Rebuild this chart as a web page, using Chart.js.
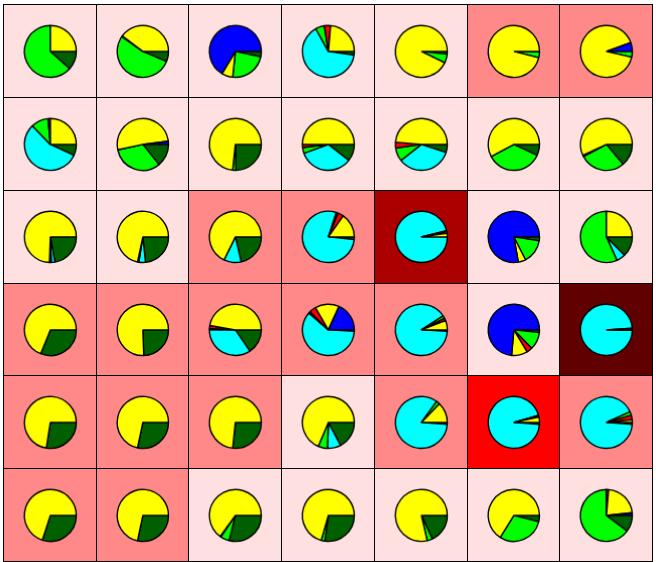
<!DOCTYPE html>
<html>
<head>
<meta charset="utf-8">
<script src="https://cdn.jsdelivr.net/npm/chart.js@4"></script>
<style>
  html, body { margin: 0; padding: 0; background: #fff; }
  #grid {
    position: absolute; left: 3px; top: 4px; width: 650px; height: 558px;
    box-sizing: border-box; padding: 1px; background: #000;
    display: grid; gap: 1px;
    grid-template-columns: repeat(7, 1fr);
    grid-template-rows: repeat(6, 1fr);
  }
  .cell { position: relative; min-width: 0; min-height: 0; }
</style>
</head>
<body>
<div id="grid"></div>
<script>
// 6 rows x 7 columns, row-major. Shares (degrees of the circle)
const categories = ["blue", "yellow", "red", "green", "cyan", "darkgreen"];

const blue = [
  0, 0, 239, 0, 0, 0, 20,
  0, 7, 0, 0, 0, 0, 0,
  0, 0, 0, 0, 0, 280, 0,
  0, 0, 0, 66, 0, 265, 0,
  0, 0, 0, 0, 0, 0, 0,
  0, 0, 0, 0, 0, 0, 6
];
const yellow = [
  90, 143, 25, 85, 334, 346, 327,
  90, 185, 264, 180, 175, 208, 205,
  268, 258, 244, 55, 8, 17, 90,
  248, 272, 170, 54, 21, 36, 1,
  261, 258, 264, 247, 46, 12, 6,
  252, 258, 234, 254, 283, 238, 79
];
const red = [
  0, 2, 0, 14, 0, 0, 0,
  5, 0, 0, 7, 13, 0, 3,
  4, 0, 0, 13, 4, 0, 0,
  0, 0, 7, 15, 6, 13, 0,
  0, 0, 0, 0, 0, 3, 10,
  0, 0, 2, 0, 0, 0, 5
];
const green = [
  228, 192, 84, 20, 20, 13, 13,
  39, 117, 7, 13, 30, 127, 102,
  0, 3, 0, 4, 2, 54, 204,
  0, 0, 2, 4, 6, 40, 3,
  0, 0, 0, 21, 8, 1, 8,
  0, 0, 20, 8, 12, 108, 233
];
const cyan = [
  0, 0, 0, 233, 0, 0, 0,
  201, 0, 0, 122, 124, 0, 0,
  8, 15, 39, 282, 346, 0, 20,
  0, 0, 125, 218, 324, 0, 355,
  0, 0, 0, 30, 302, 340, 332,
  0, 0, 0, 0, 0, 0, 0
];
const darkgreen = [
  42, 23, 12, 8, 6, 1, 0,
  25, 51, 89, 38, 18, 25, 50,
  80, 84, 77, 6, 0, 9, 46,
  112, 88, 56, 3, 3, 6, 1,
  99, 102, 96, 62, 4, 4, 4,
  108, 102, 104, 98, 65, 14, 37
];
// background level of each cell
const cellLevel = [
  0, 0, 0, 0, 0, 1, 1,
  0, 0, 0, 0, 0, 0, 0,
  0, 0, 1, 1, 3, 0, 0,
  1, 1, 1, 1, 1, 0, 4,
  1, 1, 1, 0, 1, 2, 1,
  1, 1, 0, 0, 0, 0, 0
];

const sliceColors = ["#0000ff", "#ffff00", "#ff0000", "#00ff00", "#00ffff", "#006000"];
const levelColors = ["#ffe0e0", "#ff8888", "#ff0000", "#aa0000", "#600000"];

const series = [blue, yellow, red, green, cyan, darkgreen];
const grid = document.getElementById("grid");

for (let i = 0; i < cellLevel.length; i++) {
  const cell = document.createElement("div");
  cell.className = "cell";
  cell.style.background = levelColors[cellLevel[i]];
  const canvas = document.createElement("canvas");
  cell.appendChild(canvas);
  grid.appendChild(cell);

  // slices run counter-clockwise from 3 o'clock, so feed them reversed
  // and let Chart.js go clockwise from the same spot
  const values = series.map(s => s[i]).reverse();
  new Chart(canvas, {
    type: "pie",
    data: {
      labels: categories.slice().reverse(),
      datasets: [{
        data: values,
        backgroundColor: sliceColors.slice().reverse(),
        borderColor: "#000",
        borderWidth: 1.4
      }]
    },
    options: {
      responsive: true,
      maintainAspectRatio: false,
      animation: false,
      rotation: 90,
      layout: { padding: 19.5 },
      plugins: { legend: { display: false }, tooltip: { enabled: false } }
    }
  });
}
</script>
</body>
</html>
